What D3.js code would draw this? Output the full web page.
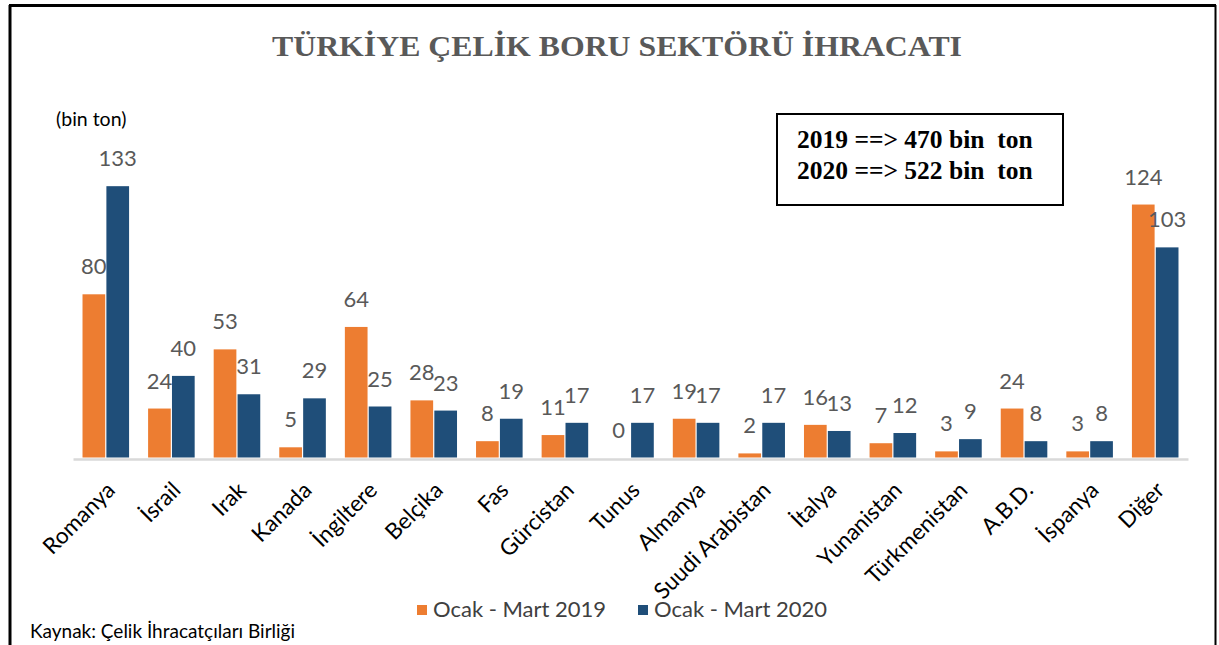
<!DOCTYPE html>
<html>
<head>
<meta charset="utf-8">
<script src="https://cdn.jsdelivr.net/npm/d3@7"></script>
<style>
  body { margin: 0; background: #fff; }
  svg text { white-space: pre; }
</style>
</head>
<body>
<div id="chart"></div>
<script>
var countries = ["Romanya", "İsrail", "Irak", "Kanada", "İngiltere", "Belçika", "Fas", "Gürcistan", "Tunus",
  "Almanya", "Suudi Arabistan", "İtalya", "Yunanistan", "Türkmenistan", "A.B.D.", "İspanya", "Diğer"];
var values2019 = [80, 24, 53, 5, 64, 28, 8, 11, 0, 19, 2, 16, 7, 3, 24, 3, 124];
var values2020 = [133, 40, 31, 29, 25, 23, 19, 17, 17, 17, 17, 13, 12, 9, 8, 8, 103];
var seriesNames = ["Ocak - Mart 2019", "Ocak - Mart 2020"];
var totalLines = ["2019 ==> 470 bin  ton", "2020 ==> 522 bin  ton"];

var width = 1219;
var height = 645;
var colors = ["#ED7D31", "#1F4E79"];
var sans = "Lato, 'Open Sans', sans-serif";

var svg = d3.select("#chart")
  .append("svg")
  .attr("width", width)
  .attr("height", height);

// outer frame
svg.append("line").attr("x1", 10).attr("x2", 10).attr("y1", 5).attr("y2", height)
  .attr("stroke", "#000").attr("stroke-width", 3);
svg.append("line").attr("x1", 9).attr("x2", 1216).attr("y1", 5.5).attr("y2", 5.5)
  .attr("stroke", "#000").attr("stroke-width", 3);
svg.append("line").attr("x1", 1215.5).attr("x2", 1215.5).attr("y1", 5).attr("y2", height)
  .attr("stroke", "#000").attr("stroke-width", 2);

svg.append("text")
  .attr("x", 617)
  .attr("y", 56)
  .attr("text-anchor", "middle")
  .attr("fill", "#595959")
  .attr("textLength", 690)
  .attr("lengthAdjust", "spacingAndGlyphs")
  .style("font-family", "'Liberation Serif', 'Times New Roman', serif")
  .style("font-weight", "bold")
  .style("font-size", "30px")
  .text("TÜRKİYE ÇELİK BORU SEKTÖRÜ İHRACATI");

svg.append("text")
  .attr("x", 56)
  .attr("y", 126)
  .attr("fill", "#000")
  .style("font-family", sans)
  .style("font-size", "19.5px")
  .text("(bin ton)");

var x0 = d3.scaleBand()
  .domain(countries)
  .range([73, 1188])
  .paddingInner(0.29)
  .paddingOuter(0.145);

var x1 = d3.scaleBand()
  .domain([0, 1])
  .range([0, x0.bandwidth()])
  .paddingInner(0.05);

var y = d3.scaleLinear()
  .domain([0, 140])
  .range([457.5, 457.5 - 140 * 2.04]);

var rows = countries.map(function(c, i) {
  return { name: c, vals: [values2019[i], values2020[i]] };
});

var groups = svg.selectAll(".grp")
  .data(rows)
  .enter()
  .append("g")
  .attr("class", "grp")
  .attr("transform", function(d) { return "translate(" + x0(d.name) + ",0)"; });

groups.selectAll("rect")
  .data(function(d) { return d.vals; })
  .enter()
  .append("rect")
  .attr("x", function(d, i) { return x1(i); })
  .attr("y", function(d) { return y(d); })
  .attr("width", x1.bandwidth())
  .attr("height", function(d) { return y(0) - y(d); })
  .attr("fill", function(d, i) { return colors[i]; });

groups.selectAll("text")
  .data(function(d) { return d.vals; })
  .enter()
  .append("text")
  .attr("x", function(d, i) { return x1(i) + x1.bandwidth() / 2; })
  .attr("y", function(d) { return y(d) - 20; })
  .attr("text-anchor", "middle")
  .attr("fill", "#595959")
  .style("font-family", sans)
  .style("font-size", "22px")
  .text(function(d) { return d; });

// axis
var xAxis = svg.append("g")
  .attr("transform", "translate(0,459)")
  .call(d3.axisBottom(x0).tickSize(0).tickPadding(0));
xAxis.select(".domain").attr("stroke", "#d9d9d9").attr("stroke-width", 2.5);
xAxis.selectAll(".tick text")
  .attr("fill", "#000")
  .attr("text-anchor", "end")
  .attr("dy", "0.35em")
  .attr("transform", "translate(5,27) rotate(-45)")
  .style("font-family", sans)
  .style("font-size", "22.5px");

// legend
var legendX = [417, 638];
seriesNames.forEach(function(s, i) {
  svg.append("rect")
    .attr("x", legendX[i])
    .attr("y", 605)
    .attr("width", 10)
    .attr("height", 10)
    .attr("fill", colors[i]);
  svg.append("text")
    .attr("x", legendX[i] + 16)
    .attr("y", 617)
    .attr("fill", "#404040")
    .style("font-family", sans)
    .style("font-size", "22px")
    .text(s);
});

svg.append("text")
  .attr("x", 30)
  .attr("y", 638)
  .attr("fill", "#000")
  .style("font-family", sans)
  .style("font-size", "19px")
  .text("Kaynak: Çelik İhracatçıları Birliği");

// totals box
svg.append("rect")
  .attr("x", 777)
  .attr("y", 114)
  .attr("width", 286)
  .attr("height", 91)
  .attr("fill", "none")
  .attr("stroke", "#000")
  .attr("stroke-width", 2);

totalLines.forEach(function(t, i) {
  svg.append("text")
    .attr("x", 797)
    .attr("y", 148 + i * 31)
    .attr("fill", "#000")
    .style("font-family", "'Liberation Serif', 'Times New Roman', serif")
    .style("font-weight", "bold")
    .style("font-size", "25.5px")
    .text(t);
});
</script>
</body>
</html>
